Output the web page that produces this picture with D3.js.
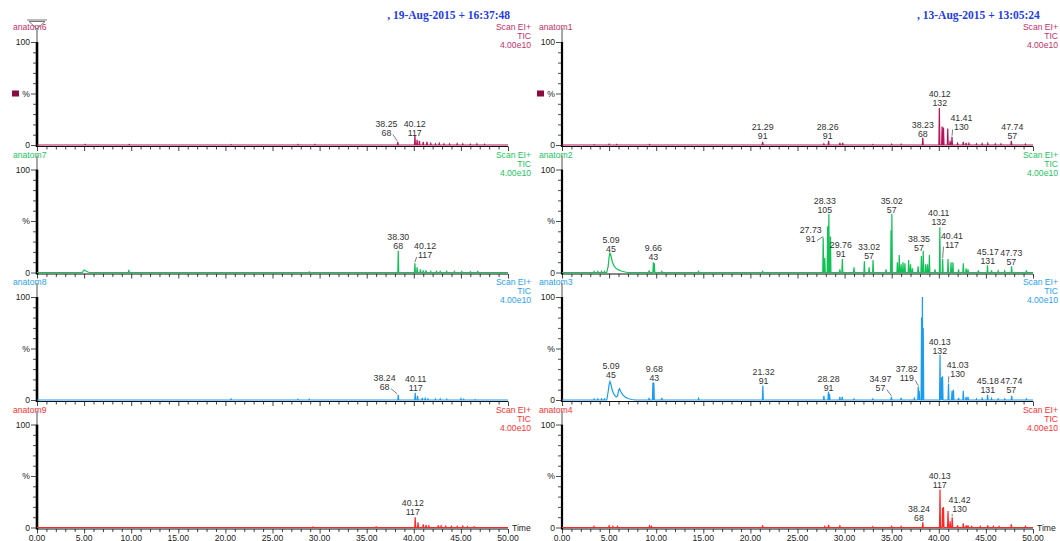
<!DOCTYPE html>
<html><head><meta charset="utf-8">
<script src="https://cdn.jsdelivr.net/npm/d3@7"></script>
<style>body{margin:0;background:#fff}svg{display:block}</style>
</head><body><svg id="c" width="1060" height="541"></svg>
<script>
// ---------- data ----------
const titles = [", 19-Aug-2015 + 16:37:48", ", 13-Aug-2015 + 13:05:24"];
const sampleNames = ["anatom6","anatom7","anatom8","anatom9","anatom1","anatom2","anatom3","anatom4"];
const scanInfo = ["Scan EI+","TIC","4.00e10"];
const timeTicks = [0,5,10,15,20,25,30,35,40,45,50];
const timeTickLabels = ["0.00","5.00","10.00","15.00","20.00","25.00","30.00","35.00","40.00","45.00","50.00"];
const yTickLabels = [[100,"100"],[50,"%"],[0,"0"]];

// peaks: [retention time (min), relative intensity (%)]
const peaks_anatom6 = [[5.1,0.5],[9.8,0.5],[20.6,0.4],[27.7,0.5],[29.5,0.5],[38.3,3],[40.12,9],[40.35,5],[40.6,4],[41.0,3],[41.4,3],[41.8,1.5],[42.3,1],[42.7,1.5],[43.2,1],[43.8,1],[44.6,1.2],[45.2,1],[46.0,0.8],[46.7,1],[47.5,0.7]];
const peaks_anatom7 = [[9.75,2.5],[28.9,0.5],[38.35,21],[40.12,9],[40.35,5],[40.7,3],[41.0,2],[41.3,2],[41.8,1],[42.4,1],[42.8,1],[43.5,1],[44.3,1],[45.1,1],[46.0,0.8],[46.8,1]];
const peaks_anatom8 = [[20.6,1],[27.7,0.8],[28.9,0.8],[38.35,5],[40.15,7],[40.4,4],[40.9,2],[41.2,1.5],[41.5,1],[42.3,1],[42.8,1],[43.5,0.8],[45.0,1.2],[45.3,0.8],[46.5,0.6]];
const peaks_anatom9 = [[29.3,0.5],[36.0,0.5],[40.15,10],[40.45,5],[41.0,3],[41.3,2.5],[41.6,1.5],[42.6,2],[42.9,1.5],[43.4,1.2],[44.0,1],[44.6,1],[45.2,1.2],[45.7,0.8],[46.4,0.8]];
const peaks_anatom1 = [[3.4,0.4],[5.0,0.8],[5.8,0.5],[9.3,0.5],[21.3,3],[27.8,1],[28.3,4],[29.5,2],[29.8,2],[33.0,0.6],[35.0,0.8],[36.0,0.8],[38.3,7],[40.06,36],[40.35,18],[40.5,17],[40.95,16],[41.2,4],[41.4,8],[42.0,1.5],[42.6,3],[42.9,2],[43.2,1.5],[44.0,1],[44.6,1.2],[45.2,1.5],[46.0,1],[46.6,1],[47.7,4],[49.2,0.8]];
const peaks_anatom2 = [[3.4,1],[3.8,1],[4.2,1],[4.5,1],[9.25,2],[9.7,10],[9.8,9],[10.6,1],[14.5,1],[21.3,1],[27.73,34],[27.9,14],[28.2,45],[28.33,57],[28.5,35],[29.5,3],[29.76,13],[31.0,5],[32.1,11],[32.6,5],[33.02,12],[34.4,3],[34.93,41],[35.02,57],[35.6,10],[35.8,17],[36.0,8],[36.2,10],[36.4,9],[36.8,12],[37.0,8],[37.2,4],[37.8,6],[38.15,16],[38.35,21],[38.6,8],[38.8,8],[39.0,17],[39.6,3],[40.11,44],[40.41,13],[40.98,13],[41.3,10],[41.5,10],[42.1,3],[42.6,9],[42.9,4],[43.1,3],[44.2,2],[45.17,7],[45.6,2],[46.3,1.5],[47.0,1.5],[47.73,6],[49.3,2]];
const peaks_anatom3 = [[3.4,1],[3.8,1],[4.2,1],[4.5,1],[9.25,2],[9.65,17],[9.75,17],[10.6,2],[14.5,1.5],[21.32,14],[27.8,4],[28.28,8],[28.4,6],[29.5,3],[29.75,3],[31.0,1],[33.0,1],[34.97,3],[36.0,2],[37.4,1.5],[37.82,13],[37.92,9],[38.17,80],[38.26,100],[38.35,70],[40.13,44],[40.2,9],[40.3,22],[40.4,23],[41.03,16],[41.4,9],[41.55,10],[42.1,2],[42.6,9],[42.9,3],[43.1,3],[44.0,1],[44.6,1.5],[45.18,5],[45.6,1.5],[46.3,1],[47.0,1],[47.74,4],[49.3,1]];
const peaks_anatom4 = [[3.4,1],[5.0,1.5],[5.4,1],[5.9,1],[9.3,1.5],[9.5,1],[21.3,2],[27.9,1],[28.3,2.5],[29.5,1.5],[33.0,0.8],[35.0,1],[36.0,1],[38.3,5],[40.13,37],[40.4,19],[40.5,20],[40.98,16],[41.2,6],[41.42,10],[42.0,2],[42.6,4],[42.9,2],[43.1,2],[43.5,1],[44.4,1],[45.2,2],[45.8,1],[46.4,1],[47.7,3],[49.2,1]];

// broad (tailing) peaks read as traces: [time, %]
const hump_anatom7 = [[4.8,0],[5.0,2.5],[5.1,2],[5.4,0.5],[5.6,0]];
const hump_anatom2 = [[4.75,0],[4.9,6],[5.0,15],[5.09,19],[5.2,16],[5.35,10],[5.55,6],[5.8,3.5],[6.0,2.5],[6.3,1.5],[6.7,0.5],[7.0,0]];
const hump_anatom3 = [[4.75,0],[4.9,8],[5.0,15],[5.09,18],[5.2,15],[5.35,9],[5.55,5],[5.75,3],[5.9,4],[6.0,9],[6.1,11],[6.25,8],[6.45,5],[6.7,3],[7.0,1.5],[7.4,0.5],[7.8,0]];

// annotated peaks: [retention time label, base mass, peak %]
const labels_anatom6 = [["38.25","68",3],["40.12","117",9]];
const labels_anatom7 = [["38.30","68",21],["40.12","117",9]];
const labels_anatom8 = [["38.24","68",5],["40.11","117",7]];
const labels_anatom9 = [["40.12","117",10]];
const labels_anatom1 = [["21.29","91",3],["28.26","91",4],["38.23","68",7],["40.12","132",36],["41.41","130",8],["47.74","57",4]];
const labels_anatom2 = [["5.09","45",19],["9.66","43",10],["27.73","91",34],["28.33","105",57],["29.76","91",13],["33.02","57",12],["35.02","57",57],["38.35","57",21],["40.11","132",44],["40.41","117",13],["45.17","131",7],["47.73","57",6]];
const labels_anatom3 = [["5.09","45",18],["9.68","43",17],["21.32","91",14],["28.28","91",8],["34.97","57",3],["37.82","119",13],["40.13","132",44],["41.03","130",16],["45.18","131",5],["47.74","57",4]];
const labels_anatom4 = [["38.24","68",5],["40.13","117",37],["41.42","130",10]];

// ---------- layout (label placement: x in min, y of 2nd line in %, leader) ----------
const labelLayout = {
  anatom6: [[37.1,12,1],[40.1,12,0]],
  anatom7: [[38.35,26,0],[41.2,17,1]],
  anatom8: [[36.9,13,1],[40.2,12,0]],
  anatom9: [[39.9,15,0]],
  anatom1: [[21.3,9,0],[28.2,9,0],[38.3,11,0],[40.1,41,0],[42.4,17,1],[47.8,9,0]],
  anatom2: [[5.2,23,0],[9.7,15,0],[26.4,33,1],[27.9,61,0],[29.6,18,0],[32.6,16,0],[35.0,61,0],[37.9,24,0],[40.0,49,0],[41.4,27,1],[45.2,11,0],[47.7,10,0]],
  anatom3: [[5.2,24,0],[9.8,21,0],[21.4,18,0],[28.3,12,0],[33.8,12,1],[36.6,21,1],[40.1,48,0],[42.0,25,1],[45.2,10,0],[47.7,10,0]],
  anatom4: [[37.9,9,0],[40.1,41,0],[42.2,18,1]]
};

const peaksBy = {anatom6:peaks_anatom6,anatom7:peaks_anatom7,anatom8:peaks_anatom8,anatom9:peaks_anatom9,anatom1:peaks_anatom1,anatom2:peaks_anatom2,anatom3:peaks_anatom3,anatom4:peaks_anatom4};
const humpsBy = {anatom7:hump_anatom7,anatom2:hump_anatom2,anatom3:hump_anatom3};
const labelsBy = {anatom6:labels_anatom6,anatom7:labels_anatom7,anatom8:labels_anatom8,anatom9:labels_anatom9,anatom1:labels_anatom1,anatom2:labels_anatom2,anatom3:labels_anatom3,anatom4:labels_anatom4};

const rowColors = ["#b5135a","#10c255","#1c9cf0","#ff2626"];
const rowText = ["#c4306a","#22c45e","#2aa2f2","#ff3030"];
const cols = [{x0:37,x1:508,textR:531,nameX:13,titleX:510,anchor:"end"},{x0:562,x1:1033,textR:1058,nameX:539,titleX:917,anchor:"start"}];
const rowTop = r => 42 + 127.5*r;
const PH = 103;
const FS = 8.6, LFS = 8.8;

const svg = d3.select("#c");
const font = "'Liberation Sans', Arial, sans-serif";

// titles
cols.forEach((c,i)=>{
  svg.append("text").attr("x",c.titleX).attr("y",19).attr("text-anchor",c.anchor)
    .attr("font-family","'Liberation Serif', 'Times New Roman', serif").attr("font-weight","bold")
    .attr("font-size",11.5).attr("fill","#1f3de6").text(titles[i]);
});

sampleNames.forEach((name,idx)=>{
  const ci = idx<4?0:1, r = idx%4, c = cols[ci];
  const yTop = rowTop(r), y0 = yTop+PH;
  const x = d3.scaleLinear().domain([0,50]).range([c.x0,c.x1]);
  const y = d3.scaleLinear().domain([0,100]).range([y0,yTop]);
  const g = svg.append("g");
  const col = rowColors[r], tcol = rowText[r];

  // name + scan info
  g.append("text").attr("x",c.nameX).attr("y",yTop-12).attr("font-family",font).attr("font-size",FS).attr("fill",tcol).text(name);
  scanInfo.forEach((s,k)=>g.append("text").attr("x",c.textR).attr("y",yTop-12+9*k).attr("text-anchor","end")
    .attr("font-family",font).attr("font-size",FS).attr("fill",tcol).text(s));

  // x axis
  g.append("line").attr("x1",c.x0).attr("x2",c.x1).attr("y1",y0+1.5).attr("y2",y0+1.5).attr("stroke","#111").attr("stroke-width",1);
  const xa = d3.axisBottom(x).tickValues(d3.range(0,50.01,1)).tickSize(3).tickFormat("");
  const xg = g.append("g").attr("transform",`translate(0,${y0+1.5})`).call(xa);
  xg.select(".domain").remove();
  xg.selectAll(".tick line").attr("stroke","#111").attr("stroke-width",0.8)
    .attr("y2",d=>d%5===0?4.5:3);
  if(r===3){
    timeTicks.forEach((t,k)=>g.append("text").attr("x",x(t)).attr("y",y0+13).attr("text-anchor","middle")
      .attr("font-family",font).attr("font-size",FS).attr("fill","#222").text(timeTickLabels[k]));
    g.append("text").attr("x",c.x1+4).attr("y",y0+3).attr("font-family",font).attr("font-size",FS).attr("fill","#222").text("Time");
  }

  // y axis
  g.append("line").attr("x1",c.x0).attr("x2",c.x0).attr("y1",yTop-14).attr("y2",yTop).attr("stroke","#8a8a8a").attr("stroke-width",1.5);
  g.append("line").attr("x1",c.x0).attr("x2",c.x0).attr("y1",yTop).attr("y2",y0+2).attr("stroke","#000").attr("stroke-width",ci===0?2.6:2.2);
  const ya = d3.axisLeft(y).tickValues(d3.range(0,101,10)).tickSize(3).tickFormat("");
  const yg = g.append("g").attr("transform",`translate(${c.x0-1},0)`).call(ya);
  yg.select(".domain").remove();
  yg.selectAll(".tick line").attr("stroke","#222").attr("stroke-width",0.8).attr("x2",d=>d%50===0?-5:-3);
  yTickLabels.forEach(([v,s])=>g.append("text").attr("x",c.x0-7).attr("y",y(v)+3).attr("text-anchor","end")
    .attr("font-family",font).attr("font-size",FS).attr("fill","#222").text(s));
  if(r===0){
    g.append("rect").attr("x",c.x0-25).attr("y",y(50)-3).attr("width",7).attr("height",6).attr("fill","#8b0b3c");
  }
  if(r===0 && ci===0){
    g.append("line").attr("x1",c.x0-10).attr("x2",c.x0+10).attr("y1",20).attr("y2",20).attr("stroke","#777").attr("stroke-width",1);
    g.append("path").attr("d",`M${c.x0-8},21.5L${c.x0+8},21.5L${c.x0},29Z`).attr("fill","none").attr("stroke","#777").attr("stroke-width",1);
  }

  // trace
  const pts = [[0,0]];
  const hw = 0.05;
  const items = peaksBy[name].map(p=>({t:p[0],pts:[[p[0]-hw,0],[p[0],p[1]],[p[0]+hw,0]]}));
  if(humpsBy[name]) items.push({t:humpsBy[name][0][0],pts:humpsBy[name]});
  items.sort((a,b)=>a.t-b.t).forEach(it=>it.pts.forEach(q=>pts.push(q)));
  pts.push([50,0]);
  const line = d3.line().x(d=>x(d[0])).y(d=>y(d[1]));
  g.append("path").attr("d",line(pts)).attr("fill","none").attr("stroke",col).attr("stroke-width",1.2).attr("stroke-linejoin","miter");

  // labels
  const lay = labelLayout[name];
  labelsBy[name].forEach((lb,k)=>{
    const [lx,ly,lead] = lay[k];
    const px = x(lx), l2 = y(ly), l1 = l2-9;
    const t1 = g.append("text").attr("x",px).attr("y",l1+3).attr("text-anchor","middle").attr("font-family",font).attr("font-size",LFS).attr("fill","#333").text(lb[0]);
    const t2 = g.append("text").attr("x",px).attr("y",l2+3).attr("text-anchor","middle").attr("font-family",font).attr("font-size",LFS).attr("fill","#333").text(lb[1]);
    if(lead){
      const w2 = t2.node().getComputedTextLength();
      const pkx = x(+lb[0]), pky = y(lb[2]);
      let sx, sy;
      if(pkx > px + w2/2 + 1){ sx = px + w2/2 + 1.5; sy = l2+2; }
      else if(pkx < px - w2/2 - 1){ sx = px - w2/2 - 1.5; sy = l2+2; }
      else { sx = pkx; sy = l2+5; }
      g.append("line").attr("x1",sx).attr("y1",sy).attr("x2",pkx).attr("y2",pky-1).attr("stroke","#444").attr("stroke-width",0.7);
    }
  });
});
</script></body></html>
